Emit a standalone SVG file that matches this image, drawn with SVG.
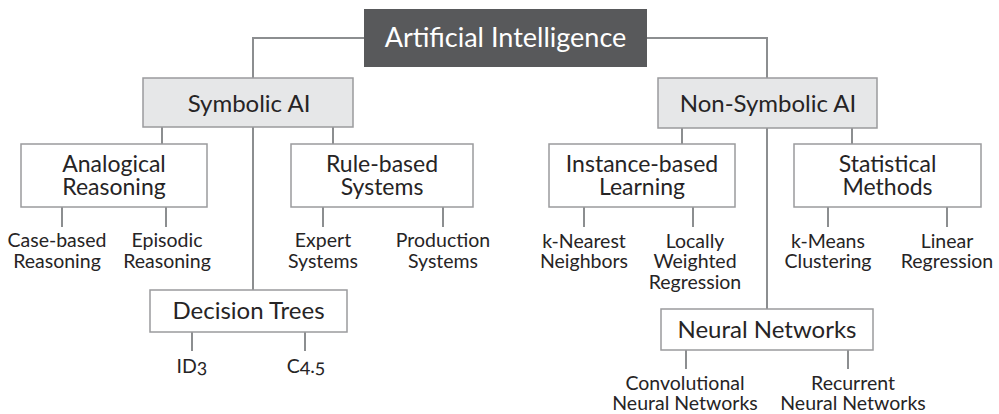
<svg xmlns="http://www.w3.org/2000/svg" width="999" height="414" viewBox="0 0 999 414">
  <style>
    text { font-family: Lato, "Open Sans", "Liberation Sans", sans-serif; fill: #262425; text-anchor: middle; font-variant-numeric: oldstyle-nums; }
    .edge { fill: none; stroke: #8c8e90; stroke-width: 2; }
    .box { fill: #ffffff; stroke: #9a9b9d; stroke-width: 1.5; }
    .mid { fill: #e6e7e8; stroke: #9a9b9d; stroke-width: 1.5; }
    .root { fill: #58595b; }
    .rt { fill: #ffffff; font-size: 27px; }
    .nt { font-size: 24px; }
    .nt2 { font-size: 23px; }
    .lt { font-size: 19.5px; }
  </style>

  <!-- connectors -->
  <g id="connectors">
    <polyline class="edge" points="253,78 253,38 767,38 767,78"/>
    <!-- Symbolic AI branches -->
    <line class="edge" x1="162" y1="127" x2="162" y2="144"/>
    <line class="edge" x1="333" y1="127" x2="333" y2="144"/>
    <line class="edge" x1="253" y1="127" x2="253" y2="290"/>
    <!-- Non-Symbolic AI branches -->
    <line class="edge" x1="682" y1="128" x2="682" y2="144"/>
    <line class="edge" x1="852" y1="128" x2="852" y2="144"/>
    <line class="edge" x1="767" y1="128" x2="767" y2="309"/>
    <!-- leaves -->
    <line class="edge" x1="62" y1="207" x2="62" y2="227"/>
    <line class="edge" x1="166" y1="207" x2="166" y2="227"/>
    <line class="edge" x1="323" y1="207" x2="323" y2="227"/>
    <line class="edge" x1="443" y1="207" x2="443" y2="227"/>
    <line class="edge" x1="584" y1="207" x2="584" y2="227"/>
    <line class="edge" x1="693" y1="207" x2="693" y2="227"/>
    <line class="edge" x1="828" y1="207" x2="828" y2="227"/>
    <line class="edge" x1="947" y1="207" x2="947" y2="227"/>
    <line class="edge" x1="192" y1="332" x2="192" y2="351"/>
    <line class="edge" x1="305" y1="332" x2="305" y2="351"/>
    <line class="edge" x1="686" y1="350" x2="686" y2="369"/>
    <line class="edge" x1="848" y1="350" x2="848" y2="369"/>
  </g>

  <g id="artificial-intelligence">
    <rect class="root" x="364" y="9" width="283" height="58"/>
    <text class="rt" x="505.5" y="47">Artificial Intelligence</text>
  </g>

  <g id="symbolic-ai">
    <rect class="mid" x="143" y="78" width="210" height="49"/>
    <text class="nt" x="249" y="112">Symbolic AI</text>
  </g>

  <g id="non-symbolic-ai">
    <rect class="mid" x="658" y="78" width="219" height="50"/>
    <text class="nt" x="768" y="112">Non-Symbolic AI</text>
  </g>

  <g id="analogical-reasoning">
    <rect class="box" x="21" y="144" width="186" height="63"/>
    <text class="nt2" x="114" y="172">Analogical<tspan x="114" dy="23">Reasoning</tspan></text>
  </g>

  <g id="rule-based-systems">
    <rect class="box" x="291" y="144" width="182" height="63"/>
    <text class="nt2" x="382" y="172">Rule-based<tspan x="382" dy="23">Systems</tspan></text>
  </g>

  <g id="instance-based-learning">
    <rect class="box" x="549" y="144" width="186" height="63"/>
    <text class="nt2" x="642" y="172">Instance-based<tspan x="642" dy="23">Learning</tspan></text>
  </g>

  <g id="statistical-methods">
    <rect class="box" x="794" y="144" width="187" height="63"/>
    <text class="nt2" x="887.5" y="172">Statistical<tspan x="887.5" dy="23">Methods</tspan></text>
  </g>

  <g id="decision-trees">
    <rect class="box" x="150" y="290" width="197" height="42"/>
    <text class="nt" x="248.5" y="319">Decision Trees</text>
  </g>

  <g id="neural-networks">
    <rect class="box" x="661" y="309" width="212" height="41"/>
    <text class="nt" x="767" y="338">Neural Networks</text>
  </g>

  <!-- leaf labels -->
  <g id="case-based-reasoning">
    <text class="lt" x="57" y="247">Case-based<tspan x="57" dy="20.5">Reasoning</tspan></text>
  </g>
  <g id="episodic-reasoning">
    <text class="lt" x="167" y="247">Episodic<tspan x="167" dy="20.5">Reasoning</tspan></text>
  </g>
  <g id="expert-systems">
    <text class="lt" x="323" y="247">Expert<tspan x="323" dy="20.5">Systems</tspan></text>
  </g>
  <g id="production-systems">
    <text class="lt" x="443" y="247">Production<tspan x="443" dy="20.5">Systems</tspan></text>
  </g>
  <g id="k-nearest-neighbors">
    <text class="lt" x="584" y="247.5">k-Nearest<tspan x="584" dy="20.5">Neighbors</tspan></text>
  </g>
  <g id="locally-weighted-regression">
    <text class="lt" x="695" y="247.5">Locally<tspan x="695" dy="20.5">Weighted</tspan><tspan x="695" dy="20.5">Regression</tspan></text>
  </g>
  <g id="k-means-clustering">
    <text class="lt" x="828" y="247.5">k-Means<tspan x="828" dy="20.5">Clustering</tspan></text>
  </g>
  <g id="linear-regression">
    <text class="lt" x="947" y="247.5">Linear<tspan x="947" dy="20.5">Regression</tspan></text>
  </g>
  <g id="id3">
    <text class="lt" x="192" y="373">ID3</text>
  </g>
  <g id="c45">
    <text class="lt" x="306" y="373">C4.5</text>
  </g>
  <g id="cnn">
    <text class="lt" x="685" y="389.5">Convolutional<tspan x="685" dy="20.5">Neural Networks</tspan></text>
  </g>
  <g id="rnn">
    <text class="lt" x="853" y="389.5">Recurrent<tspan x="853" dy="20.5">Neural Networks</tspan></text>
  </g>
</svg>
